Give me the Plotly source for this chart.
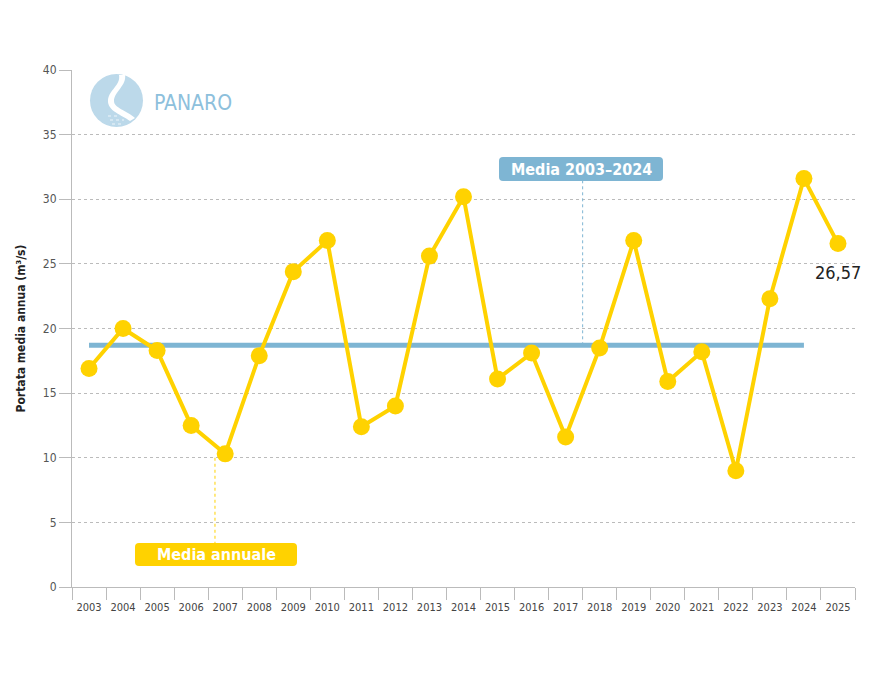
import plotly.graph_objects as go

years = [str(y) for y in range(2003, 2026)]
portata = [16.9, 20.0, 18.3, 12.5, 10.3, 17.9, 24.4, 26.8, 12.4, 14.0, 25.6, 30.2,
           16.1, 18.1, 11.6, 18.5, 26.8, 15.9, 18.2, 9.0, 22.3, 31.6, 26.57]
media_years = years[:22]
media_value = 18.7
last_label = "26,57"
yticks = [0, 5, 10, 15, 20, 25, 30, 35, 40]

YELLOW = "#FFD200"
BLUE = "#7EB5D3"
FONT = "DejaVu Sans Condensed, Liberation Sans Narrow, Roboto, Arial"

W, H = 882, 682
L, R, T, B = 72, 27, 70, 95
PW, PH = W - L - R, H - T - B

def px(x):
    return (x - L) / PW

def py(y):
    return (H - B - y) / PH

def P(a, b):
    return f"{px(a):.5f},{py(b):.5f}"

def rrect(x0, y0, x1, y1, r):
    return ("M " + P(x0 + r, y0) + " L " + P(x1 - r, y0) + " Q " + P(x1, y0) + " " + P(x1, y0 + r)
            + " L " + P(x1, y1 - r) + " Q " + P(x1, y1) + " " + P(x1 - r, y1)
            + " L " + P(x0 + r, y1) + " Q " + P(x0, y1) + " " + P(x0, y1 - r)
            + " L " + P(x0, y0 + r) + " Q " + P(x0, y0) + " " + P(x0 + r, y0) + " Z")

fig = go.Figure()
fig.add_trace(go.Scatter(x=media_years, y=[media_value] * len(media_years), mode="lines",
                         line=dict(color=BLUE, width=5), hoverinfo="skip", showlegend=False))
fig.add_trace(go.Scatter(x=years, y=portata, mode="lines+markers",
                         line=dict(color=YELLOW, width=4),
                         marker=dict(color=YELLOW, size=17), showlegend=False))

shapes = []
shapes.append(dict(type="line", xref="x", yref="y", x0=14.5, x1=14.5, y0=media_value, y1=32.0,
                   line=dict(color=BLUE, width=1, dash="dot")))
shapes.append(dict(type="line", xref="x", yref="y", x0=3.7, x1=3.7, y0=10.0, y1=3.2,
                   line=dict(color=YELLOW, width=1, dash="dot")))
# label boxes with rounded corners
shapes.append(dict(type="path", xref="paper", yref="paper", path=rrect(499, 157, 663, 181, 4),
                   fillcolor=BLUE, line=dict(width=0), layer="above"))
shapes.append(dict(type="path", xref="paper", yref="paper", path=rrect(135, 543, 297, 566, 4),
                   fillcolor=YELLOW, line=dict(width=0), layer="above"))
# logo
shapes.append(dict(type="circle", xref="paper", yref="paper",
                   x0=px(90), x1=px(143), y0=py(127), y1=py(74),
                   fillcolor="#BCD9EA", line=dict(width=0), layer="above"))
path = ("M " + P(125, 75) + " C " + P(127, 85) + " " + P(114, 92) + " " + P(114, 101)
        + " C " + P(114, 108) + " " + P(126, 110) + " " + P(135, 118)
        + " L " + P(130, 121) + " C " + P(122, 115) + " " + P(107, 111) + " " + P(108, 100)
        + " C " + P(109, 90) + " " + P(121, 85) + " " + P(119, 75) + " Z")
shapes.append(dict(type="path", xref="paper", yref="paper", path=path,
                   fillcolor="white", line=dict(width=0), layer="above"))
for (a, b, yy) in ((108, 118, 116), (110, 124, 120), (112, 122, 124)):
    shapes.append(dict(type="line", xref="paper", yref="paper", x0=px(a), x1=px(b),
                       y0=py(yy), y1=py(yy), line=dict(color="#EEF5FA", width=1, dash="dot"),
                       layer="above"))
fig.update_layout(shapes=shapes)

anns = [
    dict(x=px(581), y=py(169), xref="paper", yref="paper", text="<b>Media 2003–2024</b>",
         xanchor="center", yanchor="middle",
         showarrow=False, font=dict(color="white", size=16, family=FONT)),
    dict(x=px(216), y=py(554.5), xref="paper", yref="paper", text="<b>Media annuale</b>",
         xanchor="center", yanchor="middle",
         showarrow=False, font=dict(color="white", size=16, family=FONT)),
    dict(x=22, y=24.3, xref="x", yref="y", text=last_label, showarrow=False,
         xanchor="center", yanchor="middle",
         font=dict(color="#222222", size=18, family=FONT)),
    dict(x=px(152), y=py(103), xref="paper", yref="paper", text="PANARO", showarrow=False,
         xanchor="left", yanchor="middle", font=dict(color="#8DC0DC", size=21, family=FONT)),
]
fig.update_layout(annotations=anns)

fig.update_layout(
    width=W, height=H,
    margin=dict(l=L, r=R, t=T, b=B, pad=0),
    paper_bgcolor="white", plot_bgcolor="white",
    font=dict(family=FONT, color="#555555", size=12),
    xaxis=dict(type="category", categoryorder="array", categoryarray=years,
               range=[-0.5, 22.5], showgrid=False, showline=True, linecolor="#BBBBBB",
               ticks="outside", tickson="boundaries", ticklen=12, tickcolor="#BBBBBB",
               ticklabelstandoff=10,
               tickangle=0, tickfont=dict(size=11, color="#444444"), fixedrange=True),
    yaxis=dict(range=[0, 40], tickvals=yticks, showgrid=True, gridcolor="#BBBBBB",
               griddash="dot", gridwidth=1, showline=True, linecolor="#BBBBBB",
               ticks="outside", ticklen=12, tickcolor="#BBBBBB", zeroline=False,
               tickfont=dict(size=12, color="#555555"),
               title=dict(text="<b>Portata media annua (m³/s)</b>", standoff=14,
                          font=dict(size=12, color="#222222"))),
)

fig.write_html("out.html")
